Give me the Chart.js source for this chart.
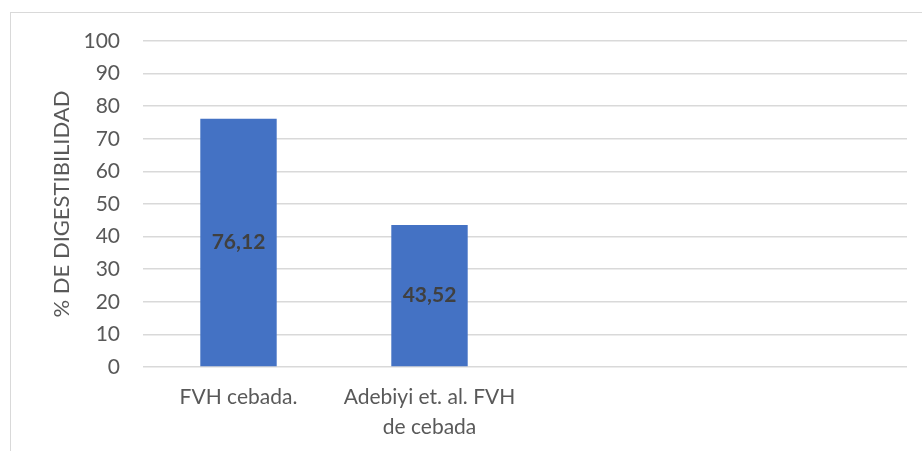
<!DOCTYPE html>
<html>
<head>
<meta charset="utf-8">
<script src="https://cdn.jsdelivr.net/npm/chart.js@4"></script>
<style>
  html, body { margin: 0; padding: 0; background: #fff; }
  #wrap { position: relative; width: 922px; height: 451px; overflow: hidden; }
  #frame { position: absolute; left: 10px; top: 12px; width: 940px; height: 480px; border: 1px solid #d9d9d9; box-sizing: border-box; }
  #c { position: absolute; left: 0; top: 0; }
</style>
</head>
<body>
<div id="wrap">
  <div id="frame"></div>
  <canvas id="c" width="922" height="451"></canvas>
</div>
<script>
const categories = ["FVH cebada.", ["Adebiyi et. al. FVH", "de cebada"], "", ""];
const digestibilidad = [76.12, 43.52, null, null];
const yTicks = [0, 10, 20, 30, 40, 50, 60, 70, 80, 90, 100];
const yTitle = "% DE DIGESTIBILIDAD";

const FONT = "Lato, 'Liberation Sans', sans-serif";

const valueLabels = {
  id: 'valueLabels',
  afterDatasetsDraw(chart) {
    const ctx = chart.ctx;
    const meta = chart.getDatasetMeta(0);
    ctx.save();
    ctx.font = "bold 21px " + FONT;
    ctx.fillStyle = "#404040";
    ctx.textAlign = "center";
    ctx.textBaseline = "middle";
    meta.data.forEach((bar, i) => {
      const v = chart.data.datasets[0].data[i];
      if (v === null || v === undefined) return;
      const y = (bar.y + bar.base) / 2;
      ctx.fillText(v.toFixed(2).replace('.', ','), bar.x, y);
    });
    ctx.restore();
  }
};

new Chart(document.getElementById('c'), {
  type: 'bar',
  data: {
    labels: categories,
    datasets: [{
      data: digestibilidad,
      backgroundColor: '#4472C4',
      borderWidth: 0,
      categoryPercentage: 1.0,
      barPercentage: 0.4
    }]
  },
  options: {
    responsive: false,
    animation: false,
    events: [],
    layout: { padding: { top: 41, right: 15, bottom: 0, left: 0 } },
    plugins: { legend: { display: false }, tooltip: { enabled: false } },
    scales: {
      x: {
        grid: { display: false, drawTicks: false },
        border: { display: false },
        ticks: {
          color: '#595959',
          font: { family: FONT, size: 21, lineHeight: 1.4 },
          padding: 16,
          maxRotation: 0,
          autoSkip: false
        },
        afterFit(s) { s.height = 84; }
      },
      y: {
        min: 0, max: 100,
        afterBuildTicks(s) { s.ticks = yTicks.map(v => ({ value: v })); },
        grid: { color: '#d9d9d9', lineWidth: 1.5, drawTicks: false },
        border: { display: false },
        ticks: {
          color: '#595959',
          font: { family: FONT, size: 21 },
          padding: 23
        },
        title: {
          display: true,
          text: yTitle,
          color: '#595959',
          font: { family: FONT, size: 22 },
          padding: { top: 49, bottom: 0 }
        },
        afterFit(s) { s.width = 143; }
      }
    }
  },
  plugins: [valueLabels]
});
</script>
</body>
</html>
